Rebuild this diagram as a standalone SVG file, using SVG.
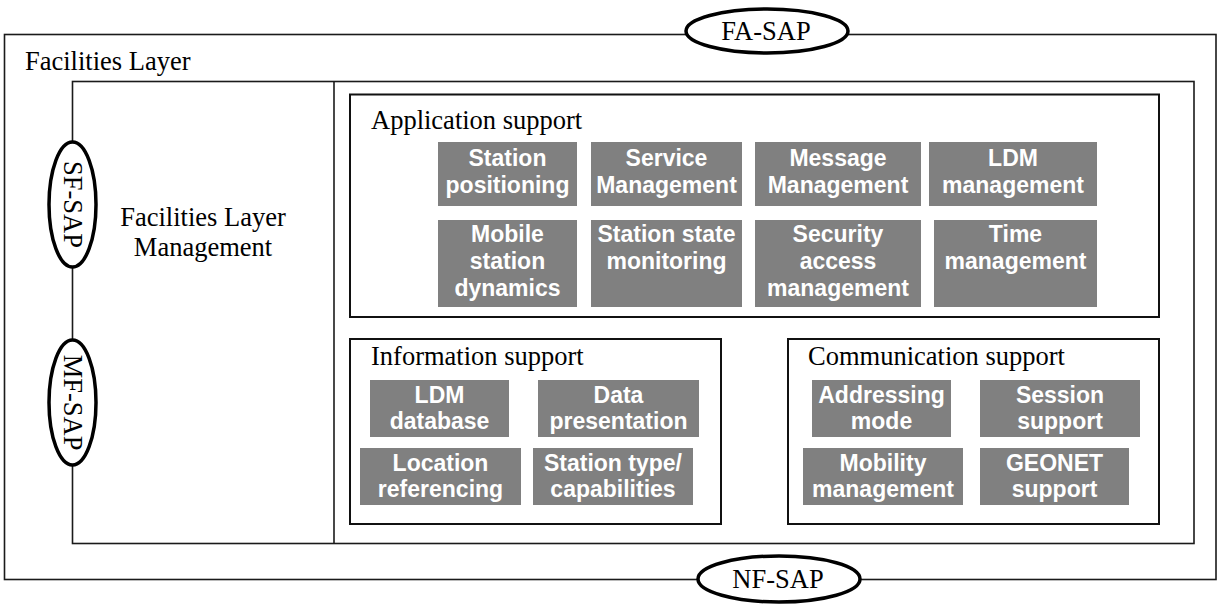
<svg xmlns="http://www.w3.org/2000/svg" width="1222" height="612" viewBox="0 0 1222 612">
<style>
.frame{fill:none;stroke:#1a1a1a;stroke-width:1.6}
.box{fill:none;stroke:#111;stroke-width:2}
.sap{fill:#fff;stroke:#000;stroke-width:3.5}
.lbl{font-family:"Liberation Serif","Times New Roman",serif;font-size:26.5px;fill:#000}
.fn{fill:#808080}
.ft{font-family:"Liberation Sans",Arial,sans-serif;font-weight:bold;font-size:23px;fill:#fff;text-anchor:middle}
</style>
<rect width="1222" height="612" fill="#fff"/>
<g id="facilities-layer">
<rect class="frame" x="4.5" y="34.5" width="1211.5" height="545"/>
<text class="lbl" x="25" y="70">Facilities Layer</text>
</g>
<g id="inner-frame">
<rect class="frame" x="72.5" y="81.5" width="1121.5" height="462"/>
<line class="frame" x1="334" y1="81.5" x2="334" y2="543.5"/>
</g>
<g id="facilities-layer-management">
<text class="lbl" text-anchor="middle" x="203" y="226">Facilities Layer</text>
<text class="lbl" text-anchor="middle" x="203" y="256">Management</text>
</g>
<g id="fa-sap">
<ellipse class="sap" cx="767" cy="31" rx="81" ry="22"/>
<text class="lbl" text-anchor="middle" x="766" y="40">FA-SAP</text>
</g>
<g id="nf-sap">
<ellipse class="sap" cx="779" cy="579" rx="81" ry="23"/>
<text class="lbl" text-anchor="middle" x="778" y="588">NF-SAP</text>
</g>
<g id="sf-sap">
<ellipse class="sap" cx="72.5" cy="204.5" rx="23.5" ry="62.5"/>
<text class="lbl" text-anchor="middle" transform="translate(72.5,204.5) rotate(90)" x="0" y="9">SF-SAP</text>
</g>
<g id="mf-sap">
<ellipse class="sap" cx="72.5" cy="402.5" rx="23.5" ry="62.5"/>
<text class="lbl" text-anchor="middle" transform="translate(72.5,402.5) rotate(90)" x="0" y="9">MF-SAP</text>
</g>
<g id="application-support">
<rect class="box" x="350" y="94.5" width="809" height="222.5"/>
<text class="lbl" x="371" y="129">Application support</text>
</g>
<g id="station-positioning">
<rect class="fn" x="438" y="142" width="139" height="64"/>
<text class="ft" x="507.5" y="166">Station</text><text class="ft" x="507.5" y="193">positioning</text>
</g>
<g id="service-management">
<rect class="fn" x="591" y="142" width="151" height="64"/>
<text class="ft" x="666.5" y="166">Service</text><text class="ft" x="666.5" y="193">Management</text>
</g>
<g id="message-management">
<rect class="fn" x="755" y="142" width="166" height="64"/>
<text class="ft" x="838" y="166">Message</text><text class="ft" x="838" y="193">Management</text>
</g>
<g id="ldm-management">
<rect class="fn" x="929" y="142" width="168" height="64"/>
<text class="ft" x="1013" y="166">LDM</text><text class="ft" x="1013" y="193">management</text>
</g>
<g id="mobile-station-dynamics">
<rect class="fn" x="438" y="220" width="139" height="87"/>
<text class="ft" x="507.5" y="242">Mobile</text><text class="ft" x="507.5" y="269">station</text><text class="ft" x="507.5" y="296">dynamics</text>
</g>
<g id="station-state-monitoring">
<rect class="fn" x="591" y="220" width="151" height="87"/>
<text class="ft" x="666.5" y="242">Station state</text><text class="ft" x="666.5" y="269">monitoring</text>
</g>
<g id="security-access-management">
<rect class="fn" x="755" y="220" width="166" height="87"/>
<text class="ft" x="838" y="242">Security</text><text class="ft" x="838" y="269">access</text><text class="ft" x="838" y="296">management</text>
</g>
<g id="time-management">
<rect class="fn" x="934" y="220" width="163" height="87"/>
<text class="ft" x="1015.5" y="242">Time</text><text class="ft" x="1015.5" y="269">management</text>
</g>
<g id="information-support">
<rect class="box" x="350" y="339" width="371" height="185"/>
<text class="lbl" x="371" y="365">Information support</text>
</g>
<g id="ldm-database">
<rect class="fn" x="370" y="380" width="139" height="57"/>
<text class="ft" x="439.5" y="403">LDM</text><text class="ft" x="439.5" y="429">database</text>
</g>
<g id="data-presentation">
<rect class="fn" x="538" y="380" width="161" height="57"/>
<text class="ft" x="618.5" y="403">Data</text><text class="ft" x="618.5" y="429">presentation</text>
</g>
<g id="location-referencing">
<rect class="fn" x="360" y="448" width="161" height="57"/>
<text class="ft" x="440.5" y="471">Location</text><text class="ft" x="440.5" y="497">referencing</text>
</g>
<g id="station-type-capabilities">
<rect class="fn" x="533" y="448" width="160" height="57"/>
<text class="ft" x="613" y="471">Station type/</text><text class="ft" x="613" y="497">capabilities</text>
</g>
<g id="communication-support">
<rect class="box" x="788" y="339" width="371" height="185"/>
<text class="lbl" x="808" y="365">Communication support</text>
</g>
<g id="addressing-mode">
<rect class="fn" x="812" y="380" width="139" height="57"/>
<text class="ft" x="881.5" y="403">Addressing</text><text class="ft" x="881.5" y="429">mode</text>
</g>
<g id="session-support">
<rect class="fn" x="980" y="380" width="160" height="57"/>
<text class="ft" x="1060" y="403">Session</text><text class="ft" x="1060" y="429">support</text>
</g>
<g id="mobility-management">
<rect class="fn" x="803" y="448" width="160" height="57"/>
<text class="ft" x="883" y="471">Mobility</text><text class="ft" x="883" y="497">management</text>
</g>
<g id="geonet-support">
<rect class="fn" x="980" y="448" width="149" height="57"/>
<text class="ft" x="1054.5" y="471">GEONET</text><text class="ft" x="1054.5" y="497">support</text>
</g>
</svg>
